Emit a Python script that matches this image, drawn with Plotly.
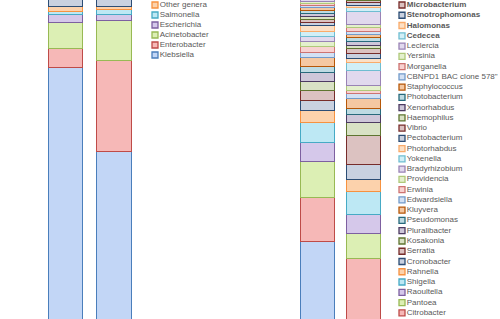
import plotly.graph_objects as go

# ---------------- data ----------------
# Left panel: two samples, stacked genus abundance (%), bottom -> top
left_genera = ["Klebsiella", "Enterobacter", "Acinetobacter", "Escherichia",
               "Salmonella", "Other genera", "Unassigned"]
left_sample_1 = [76.6, 5.7, 7.8, 2.4, 0.9, 1.5, 5.1]
left_sample_2 = [51.6, 27.2, 11.9, 1.8, 1.5, 0.9, 5.1]

# Right panel: two samples, stacked genus abundance (%), bottom -> top
right_genera = ["Klebsiella", "Citrobacter", "Pantoea", "Raoultella", "Shigella",
                "Rahnella", "Cronobacter", "Serratia", "Kosakonia", "Pluralibacter",
                "Pseudomonas", "Kluyvera", "Edwardsiella", "Erwinia", "Providencia",
                "Bradyrhizobium", "Yokenella", "Photorhabdus", "Pectobacterium", "Vibrio",
                "Haemophilus", "Xenorhabdus", "Photobacterium", "Staphylococcus",
                "CBNPD1 BAC clone 578\"", "Morganella", "Yersinia", "Leclercia",
                "Cedecea", "Halomonas", "Stenotrophomonas", "Microbacterium",
                "Bacillus", "Aeromonas", "Hafnia", "Proteus"]
right_sample_1 = [24.8, 13.1, 10.7, 5.7, 6.0, 3.6, 3.0, 3.0, 2.7, 2.7,
                  1.8, 2.7, 1.5, 1.8, 1.5, 1.5, 1.5, 1.5, 0.9, 0.9,
                  0.9, 0.9, 0.9, 0.9, 0.6, 0.6, 0.6, 0.6, 0.6, 0.6,
                  0.6, 0.6, 0.3, 0.3, 0.3, 0.0]
right_sample_2 = [0.6, 19.1, 7.5, 5.7, 6.9, 3.6, 4.5, 8.4, 3.9, 2.4,
                  1.8, 3.0, 1.5, 0.9, 1.5, 4.5, 2.4, 1.2, 1.5, 1.5,
                  0.9, 1.2, 1.2, 0.9, 0.9, 1.2, 0.9, 3.9, 1.2, 0.6,
                  0.9, 0.6, 1.2, 0.9, 0.9, 0.6]
bold_genera = ["Microbacterium", "Stenotrophomonas", "Halomonas", "Cedecea"]

# legend entries visible in the cropped view (top entry -> bottom entry)
left_legend_top, left_legend_bottom = "Other genera", "Klebsiella"
right_legend_top, right_legend_bottom = "Microbacterium", "Citrobacter"

# ---------------- styles ----------------
variant_lines = [
    ["#4a7ebb", "#be4b48", "#98b954", "#7d60a0", "#46aac5", "#f69240"],
    ["#2c4d75", "#772c2a", "#5f7530", "#4d3b62", "#276a7c", "#b65708"],
    ["#729aca", "#cd7371", "#afc97a", "#9983b5", "#6fbdd1", "#f9ab6b"],
]
variant_fills = [
    ["#c2d6f6", "#f6b8b7", "#dcefb4", "#d5c8ea", "#bde8f4", "#fcd2ac"],
    ["#c9d1e0", "#dcc2c1", "#d9e2c5", "#cec7d9", "#bedbe3", "#f5c8a2"],
    ["#d3e1f4", "#f8d2d1", "#e4f0cd", "#e1d9ee", "#d1eff7", "#fce0c6"],
]
variant_cycle = [0, 1, 2, 1, 2, 1]


def color_of(i):
    v = variant_cycle[(i // 6) % len(variant_cycle)]
    return variant_fills[v][i % 6], variant_lines[v][i % 6]


FONT = "Liberation Sans, Arial, sans-serif"
fig = go.Figure()

# ---------------- bars ----------------
for i, g in enumerate(left_genera):
    fill, line = color_of(i)
    fig.add_trace(go.Bar(x=[0, 1], y=[left_sample_1[i], left_sample_2[i]], name=g,
                         width=0.71, marker=dict(color=fill, line=dict(color=line, width=1.3)),
                         xaxis="x", yaxis="y", showlegend=False, hoverinfo="name+y"))
for i, g in enumerate(right_genera):
    fill, line = color_of(i)
    fig.add_trace(go.Bar(x=[0, 1], y=[right_sample_1[i], right_sample_2[i]], name=g,
                         width=0.74, marker=dict(color=fill, line=dict(color=line, width=1.3)),
                         xaxis="x2", yaxis="y2", showlegend=False, hoverinfo="name+y"))


# ---------------- legends (marker + text, as in the cropped reference) -------------
def legend_trace(names, first, last, x0, y_top_item, step):
    lo, hi = names.index(first), names.index(last)
    xs, ys, texts, fills, lines = [], [], [], [], []
    for i in range(lo, hi + 1):
        fill, line = color_of(i)
        xs.append(x0)
        ys.append(y_top_item + (hi - i) * step)
        texts.append("<b>%s</b>" % names[i] if names[i] in bold_genera else names[i])
        fills.append(fill)
        lines.append(line)
    return go.Scatter(x=xs, y=ys, text=texts, mode="markers+text",
                      textposition="middle right",
                      textfont=dict(family=FONT, size=8, color="#595959"),
                      marker=dict(symbol="square", size=6, color=fills,
                                  line=dict(color=lines, width=1.3)),
                      xaxis="x3", yaxis="y3", showlegend=False, hoverinfo="skip",
                      cliponaxis=False)


fig.add_trace(legend_trace(left_genera, left_legend_bottom, left_legend_top, 155, 5, 10))
fig.add_trace(legend_trace(right_genera, right_legend_bottom, right_legend_top, 402, 5, 10.26))

axis_off = dict(visible=False, showgrid=False, zeroline=False, fixedrange=True)
fig.update_layout(
    width=500, height=319,
    margin=dict(l=0, r=0, t=0, b=0),
    paper_bgcolor="white", plot_bgcolor="rgba(0,0,0,0)",
    barmode="stack", bargap=0,
    xaxis=dict(domain=[0, 0.5], range=[-1.361, 3.794], anchor="y", **axis_off),
    yaxis=dict(domain=[0, 1], range=[1.8, 97.0], anchor="x", **axis_off),
    xaxis2=dict(domain=[0.5, 1], range=[-1.478, 3.957], anchor="y2", **axis_off),
    yaxis2=dict(domain=[0, 1], range=[1.8, 97.0], anchor="x2", **axis_off),
    xaxis3=dict(domain=[0, 1], range=[0, 500], anchor="y3", **axis_off),
    yaxis3=dict(domain=[0, 1], range=[319, 0], anchor="x3", **axis_off),
    showlegend=False,
)

fig.write_html("out.html", config={"displayModeBar": False},
               post_script="document.body.style.margin='0';"
                           "document.body.style.padding='0';"
                           "document.body.style.overflow='hidden';")
